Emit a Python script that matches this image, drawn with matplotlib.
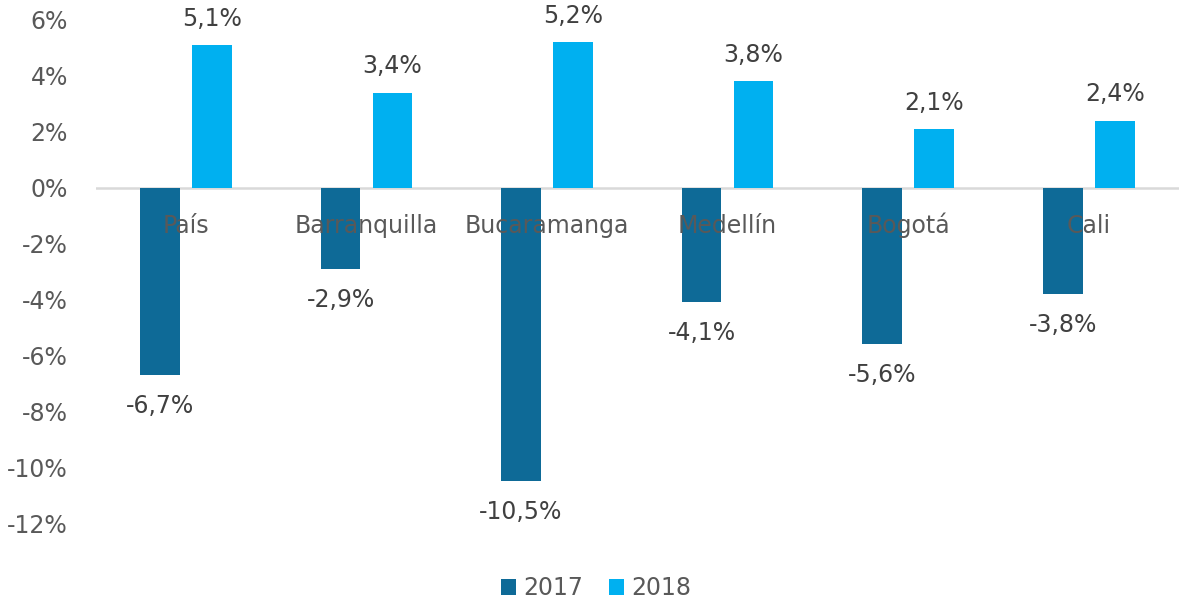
import matplotlib
matplotlib.use("Agg")
import matplotlib.pyplot as plt
import numpy as np

# data
ciudades = ["País", "Barranquilla", "Bucaramanga", "Medellín", "Bogotá", "Cali"]
var_2017 = [-6.7, -2.9, -10.5, -4.1, -5.6, -3.8]
var_2018 = [5.1, 3.4, 5.2, 3.8, 2.1, 2.4]
y_ticks = [6, 4, 2, 0, -2, -4, -6, -8, -10, -12]

c2017 = "#0E6A97"
c2018 = "#00B0F0"
gris = "#595959"
gris_osc = "#404040"

plt.rcParams["font.family"] = ["DejaVu Sans"]
fs = 17

fig = plt.figure(figsize=(11.8, 6.02), dpi=100)
ax = fig.add_axes([0.0811, 0.1312, 0.918, 0.8356])

x = np.arange(len(ciudades))
ancho = 0.22
desp = 0.144

b1 = ax.bar(x - desp, var_2017, ancho, color=c2017, label="2017", zorder=2)
b2 = ax.bar(x + desp, var_2018, ancho, color=c2018, label="2018", zorder=2)

# zero line
ax.axhline(0, color="#D9D9D9", lw=1.8, zorder=1)

# data labels
for rect, v in zip(b1, var_2017):
    ax.annotate(f"{v:.1f}%".replace(".", ","),
                (rect.get_x() + rect.get_width() / 2, v),
                xytext=(0, -27.5), textcoords="offset points",
                ha="center", va="baseline", fontsize=fs, color=gris_osc)
for rect, v in zip(b2, var_2018):
    ax.annotate(f"{v:.1f}%".replace(".", ","),
                (rect.get_x() + rect.get_width() / 2, v),
                xytext=(0, 14), textcoords="offset points",
                ha="center", va="baseline", fontsize=fs, color=gris_osc)

# category labels just under the zero line, on top of the bars
for i, nombre in enumerate(ciudades):
    ax.annotate(nombre, (i, 0), xytext=(0, -32.5), textcoords="offset points",
                ha="center", va="baseline", fontsize=fs, color=gris, zorder=5)

ax.set_xlim(-0.5, len(ciudades) - 0.5)
ax.set_ylim(-12, 6)
ax.set_yticks(y_ticks)
ax.set_yticklabels([f"{t}%" for t in y_ticks], fontsize=fs, color=gris)
ax.tick_params(axis="y", length=0, pad=20)
ax.set_xticks([])
for s in ax.spines.values():
    s.set_visible(False)

fig.legend(handles=[b1, b2], labels=["2017", "2018"], loc="center",
           bbox_to_anchor=(0.505, 0.023), ncol=2, frameon=False,
           fontsize=fs, labelcolor=gris, handlelength=0.65, handleheight=0.65,
           handletextpad=0.3, columnspacing=1.1)

fig.savefig("out.png", dpi=100)
